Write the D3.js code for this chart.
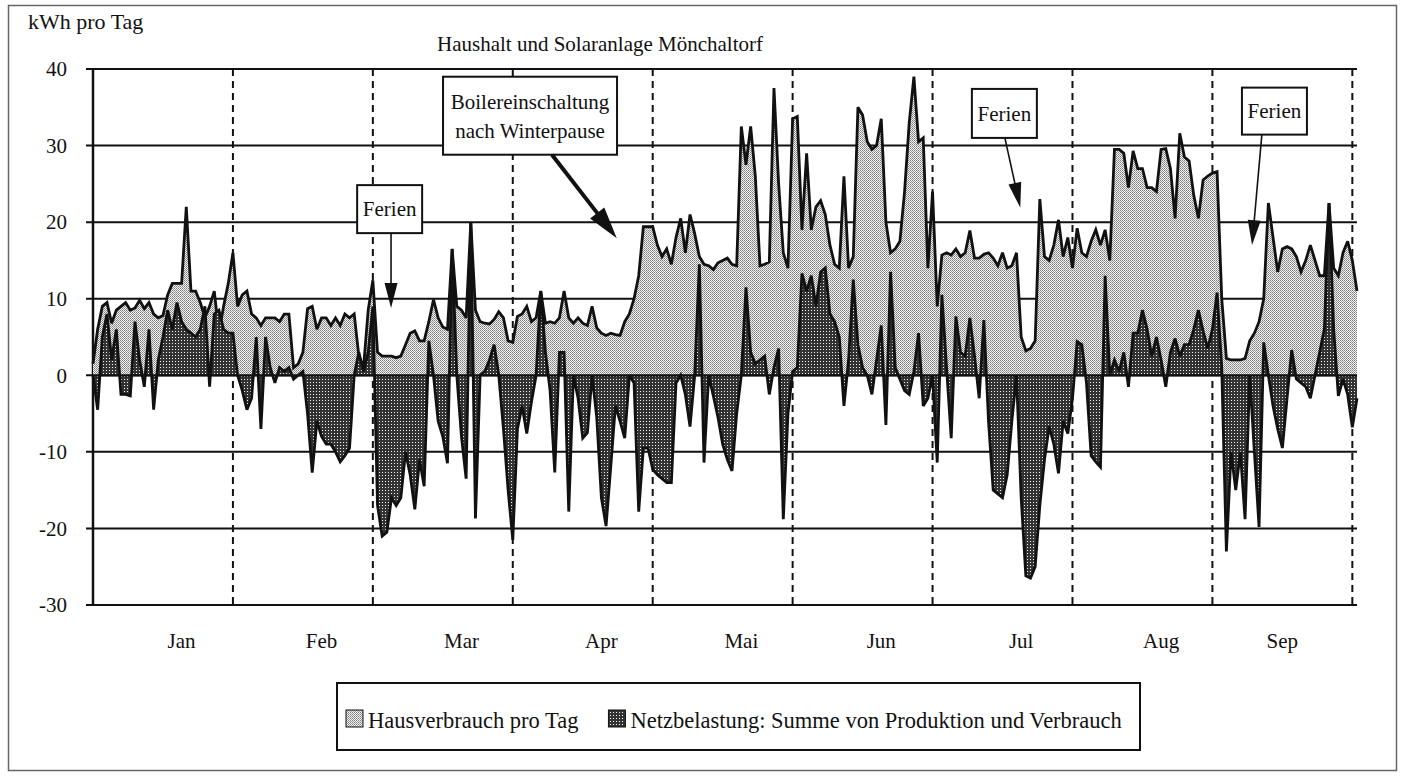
<!DOCTYPE html>
<html><head>
<meta charset="utf-8">
<title>Haushalt und Solaranlage Mönchaltorf</title>
<script src="https://d3js.org/d3.v7.min.js"></script>
<style>
  body { margin: 0; background: #fff; }
  text { font-family: "Liberation Serif", "Times New Roman", serif; fill: #111; }
</style>
</head>
<body>
<svg id="chart" width="1402" height="776"></svg>
<script>

// month labels along the bottom and the day index where each one sits
const months = ["Jan", "Feb", "Mar", "Apr", "Mai", "Jun", "Jul", "Aug", "Sep"];
const monthLabelDays = [19, 49, 79, 109, 139, 169, 199, 229, 255];
// dashed separators every 30 days
const dividerDays = [30, 60, 90, 120, 150, 180, 210, 240, 270];
const yTicks = [40, 30, 20, 10, 0, -10, -20, -30];

// kWh per day (day 0 = 1 Jan)
const hausverbrauch = [
  1.5, 6, 9, 9.5, 6.8, 8.5, 9, 9.5, 8.5, 8.8, 9.8, 8.7, 9.5, 8, 7.5, 7.8, 10.5, 12, 12, 12,
  22, 11, 11, 9.5, 7.5, 9, 11, 5.5, 9, 12, 16, 9, 10.5, 11, 8, 7.5, 6.5, 7.5, 7.5, 7.5,
  7, 8, 8, 1, 1.5, 3, 8.7, 9, 6, 7.5, 7.5, 6.5, 7.5, 6.5, 8, 7.5, 8, 2.5, 1, 8.5,
  12.4, 3, 2.5, 2.5, 2.5, 2.3, 2.5, 4, 5.5, 5.8, 4.5, 4.5, 7, 9.9, 7.5, 6.3, 6, 16.5, 9, 8.5,
  7.5, 20, 8.5, 7, 6.8, 6.7, 7.3, 8.3, 7.5, 4.5, 4.3, 7.7, 8, 9, 7, 7.5, 11, 6.8, 7, 6.8,
  7.5, 11, 7.5, 6.8, 7.5, 6.8, 6.5, 9, 6.2, 5.5, 5.2, 5.5, 5.3, 5.2, 7, 8, 10, 13, 19.4, 19.4,
  19.4, 17, 15.5, 16.5, 14.5, 18, 20.5, 16, 21, 18.5, 15.5, 14.5, 14.3, 13.8, 14.7, 15, 15.3, 14.5, 14.3, 32.5,
  27.5, 32.5, 26, 14.3, 14.5, 14.8, 37.5, 25, 16, 14, 33.5, 33.8, 19, 29, 19, 22, 22.8, 21, 17, 14.5,
  14, 26, 14, 15.5, 35, 34, 30.5, 29.5, 30, 33.5, 20, 16, 16.5, 17.5, 24, 33, 39, 30.5, 31, 14,
  24, 9, 15.7, 16, 15.7, 16.5, 15.5, 16, 18.9, 15.3, 15.3, 15.8, 16, 15.3, 14.3, 16, 14, 14.3, 16, 5,
  3.2, 3.5, 4.5, 23, 15.5, 15, 17, 20.3, 15.5, 18, 14, 19.2, 16, 15.5, 17.5, 19, 17, 19, 15, 29.5,
  29.5, 29, 24.5, 29.3, 27, 27, 24.5, 24.5, 24, 29.5, 29.6, 27, 20.5, 31.6, 28.5, 28, 23.5, 20.5, 25.5, 26,
  26.4, 26.6, 10, 2.2, 2, 2, 2, 2.2, 4.5, 5.5, 7, 10, 22.5, 18, 13.5, 16.5, 16.8, 16.5, 15.5, 13.5,
  15, 17, 15, 13, 13, 22.5, 14, 13, 16, 17.5, 15, 11
];

const netzbelastung = [
  0, -4.5, 5, 8, 2, 6, -2.5, -2.5, -2.7, 7, 2, -1.5, 6, -4.5, 2, 5, 8.5, 6, 9.5, 7,
  6, 5.5, 5, 6, 9, -1.5, 8, 8.5, 6, 5.5, 5.5, 0, -2, -4.5, -3, 5, -7, 5, 1, -1,
  1, 0.5, 1, -0.5, 0, 0.5, -5, -12.7, -6, -8, -9, -9, -10, -11.3, -10.5, -9.5, 0, 3, 0.5, 3,
  9, -17, -21, -20.5, -16, -17, -16, -10, -13, -17.5, -11, -14.5, 4.5, 0, -6, -8, -11.5, 16.5, 0, -8,
  -13.5, 20, -18.7, 0, 0.5, 2, 4, 0, -7, -15, -21.5, -7, -4, -7.6, -3.5, 0, 11, 3, -2, -12.7,
  3, 3, -17.8, 0, -3, -8.2, -7.5, 0, -5.5, -16, -19.7, -12, -4, -6, -8.2, 0, -1, -17.8, -9.5, -9.5,
  -12.3, -13, -13.5, -14, -14, -1, 0, -2.5, -6.7, 0, 14.5, -11.4, 0, -2.7, -5.5, -9, -11, -12.5, -5, 0,
  11.5, 3, 1.5, 2, 2.5, -2.5, 1, 3.5, -18.8, -5, 0.5, 1, 13.3, 11, 13, 9, 13.5, 14, 8, 7,
  5, -4, 2, 12.5, 4, 1, 0, -2.5, 2, 6.5, -6.5, 13.5, 1, -0.5, -2, -2.5, 0.5, 5.5, -4, -3,
  0, -11.4, 10.5, 1, -8.2, 7.7, 3, 2.5, 7.5, 2.5, -3, 7.2, -6, -15, -15.5, -16, -13, -6, 0, -16,
  -26.2, -26.5, -25, -17, -11, -6.7, -9, -12.8, -6, -7.6, -3, 4.4, 4, -1, -10.5, -11.3, -12, 13, 0, 2,
  0.5, 3, -1.5, 5.5, 5.5, 8.5, 6, 2.5, 5, 2, -1.5, 3, 4.8, 2.5, 4, 4, 6, 8.5, 5.8, 3.5,
  6, 10.8, 1, -23, -10, -15, -10, -18.8, 0, -10, -19.8, 4.3, 0, -4, -7, -9.5, -3, 3.3, -0.5, -1,
  -1.5, -3, 0, 3, 6, 22.5, 6, -2.7, -0.5, -2.5, -6.8, -3
];

// callout boxes: centre of box (day, kWh), arrow start day and tip (day, kWh)
const callouts = [
  { lines: ["Ferien"], day: 63.6, val: 21.7, w: 65, h: 48, fromDay: 63.9, tipDay: 63.9, tipVal: 8.8, heavy: false },
  { lines: ["Boilereinschaltung", "nach Winterpause"], day: 93.7, val: 33.9, w: 174, h: 78, fromDay: 98.4, tipDay: 112.3, tipVal: 17.9, heavy: true },
  { lines: ["Ferien"], day: 195.4, val: 34.2, w: 65, h: 49, fromDay: 195.5, tipDay: 198.8, tipVal: 21.9, heavy: false },
  { lines: ["Ferien"], day: 253.3, val: 34.5, w: 65, h: 47, fromDay: 250.6, tipDay: 248.5, tipVal: 17.0, heavy: false }
];

const svg = d3.select("#chart");

// stipple patterns like the old printout
let defs = svg.append("defs");
let light = defs.append("pattern").attr("id", "lightDots")
  .attr("width", 2).attr("height", 2).attr("patternUnits", "userSpaceOnUse");
light.append("rect").attr("width", 2).attr("height", 2).attr("fill", "#f4f4f4");
light.append("rect").attr("width", 1).attr("height", 1).attr("fill", "#7a7a7a");
light.append("rect").attr("x", 1).attr("y", 1).attr("width", 1).attr("height", 1).attr("fill", "#9a9a9a");

let dark = defs.append("pattern").attr("id", "darkDots")
  .attr("width", 3).attr("height", 3).attr("patternUnits", "userSpaceOnUse");
dark.append("rect").attr("width", 3).attr("height", 3).attr("fill", "#333");
dark.append("rect").attr("x", 1).attr("y", 1).attr("width", 1).attr("height", 1).attr("fill", "#f4f4f4");

// outer frame
svg.append("rect").attr("x", 8.5).attr("y", 5.5).attr("width", 1388).attr("height", 765)
   .attr("fill", "none").attr("stroke", "#666").attr("stroke-width", 1.5);

// scales
let x = d3.scaleLinear().domain([0, hausverbrauch.length - 1]).range([93, 1357]);
let y = d3.scaleLinear().domain([-30, 40]).range([605, 69]);

// horizontal grid lines (incl. small ticks left of the axis)
svg.append("g").selectAll("line").data(yTicks).join("line")
   .attr("x1", 86).attr("x2", 1357)
   .attr("y1", d => y(d)).attr("y2", d => y(d))
   .attr("stroke", "#111").attr("stroke-width", 2);

svg.append("g").selectAll("text").data(yTicks).join("text")
   .attr("x", 67).attr("y", d => y(d)).attr("dy", "0.35em")
   .attr("text-anchor", "end").attr("font-size", 21)
   .text(d => d);

// dashed month separators
svg.append("g").selectAll("line").data(dividerDays).join("line")
   .attr("x1", d => x(d)).attr("x2", d => x(d))
   .attr("y1", y(40)).attr("y2", y(-30))
   .attr("stroke", "#111").attr("stroke-width", 2)
   .attr("stroke-dasharray", "7,5");

// left axis
svg.append("line").attr("x1", 93).attr("x2", 93).attr("y1", y(40)).attr("y2", y(-30))
   .attr("stroke", "#111").attr("stroke-width", 2.5);

// areas
let area = d3.area().x((d, i) => x(i)).y0(y(0)).y1(d => y(d));
let line = d3.line().x((d, i) => x(i)).y(d => y(d));

svg.append("path").datum(hausverbrauch)
   .attr("d", area).attr("fill", "url(#lightDots)");
svg.append("path").datum(hausverbrauch)
   .attr("d", line).attr("fill", "none").attr("stroke", "#111")
   .attr("stroke-width", 2.8).attr("stroke-linejoin", "miter").attr("stroke-miterlimit", 3);

svg.append("path").datum(netzbelastung)
   .attr("d", area).attr("fill", "url(#darkDots)");
svg.append("path").datum(netzbelastung)
   .attr("d", line).attr("fill", "none").attr("stroke", "#111")
   .attr("stroke-width", 2.8).attr("stroke-linejoin", "miter").attr("stroke-miterlimit", 3);

// zero line again on top so the baseline stays crisp
svg.append("line").attr("x1", 93).attr("x2", 1357).attr("y1", y(0)).attr("y2", y(0))
   .attr("stroke", "#111").attr("stroke-width", 2.2);

// month labels
svg.append("g").selectAll("text").data(months).join("text")
   .attr("x", (d, i) => x(monthLabelDays[i])).attr("y", 648)
   .attr("text-anchor", "middle").attr("font-size", 21)
   .text(d => d);

// title + unit
svg.append("text").attr("x", 28).attr("y", 29).attr("font-size", 22).text("kWh pro Tag");
svg.append("text").attr("x", 600).attr("y", 51).attr("text-anchor", "middle")
   .attr("font-size", 21).text("Haushalt und Solaranlage Mönchaltorf");

// callouts
callouts.forEach(c => {
  let cx = x(c.day), cy = y(c.val);
  let g = svg.append("g");
  g.append("rect").attr("x", cx - c.w / 2).attr("y", cy - c.h / 2)
   .attr("width", c.w).attr("height", c.h)
   .attr("fill", "#fff").attr("stroke", "#111").attr("stroke-width", 2);
  c.lines.forEach((t, k) => {
    g.append("text").attr("x", cx).attr("y", cy + (k - (c.lines.length - 1) / 2) * 29)
     .attr("dy", "0.35em").attr("text-anchor", "middle").attr("font-size", 21).text(t);
  });
  let sx = x(c.fromDay), sy = cy + c.h / 2;
  let tx = x(c.tipDay), ty = y(c.tipVal);
  let len = Math.hypot(tx - sx, ty - sy);
  let ux = (tx - sx) / len, uy = (ty - sy) / len;
  let headL = c.heavy ? 32 : 25, headW = c.heavy ? 9 : 6.5;
  let bx = tx - ux * headL, by = ty - uy * headL;
  g.append("line").attr("x1", sx).attr("y1", sy).attr("x2", bx + ux * 4).attr("y2", by + uy * 4)
   .attr("stroke", "#111").attr("stroke-width", c.heavy ? 4 : 1.6);
  g.append("path")
   .attr("d", `M${tx},${ty}L${bx - uy * headW},${by + ux * headW}L${bx + uy * headW},${by - ux * headW}Z`)
   .attr("fill", "#111");
});

// legend
let lg = svg.append("g");
lg.append("rect").attr("x", 337).attr("y", 683).attr("width", 803).attr("height", 67)
  .attr("fill", "#fff").attr("stroke", "#111").attr("stroke-width", 2);
let legendItems = [
  { label: "Hausverbrauch pro Tag", fill: "url(#lightDots)" },
  { label: "Netzbelastung: Summe von Produktion und Verbrauch", fill: "url(#darkDots)" }
];
let lx = 346;
legendItems.forEach(item => {
  lg.append("rect").attr("x", lx).attr("y", 710).attr("width", 17).attr("height", 17)
    .attr("fill", item.fill).attr("stroke", "#111").attr("stroke-width", 1);
  let t = lg.append("text").attr("x", lx + 22).attr("y", 728).attr("font-size", 22.5).text(item.label);
  lx += 22 + t.node().getComputedTextLength() + 30;
});

</script>
</body>
</html>
